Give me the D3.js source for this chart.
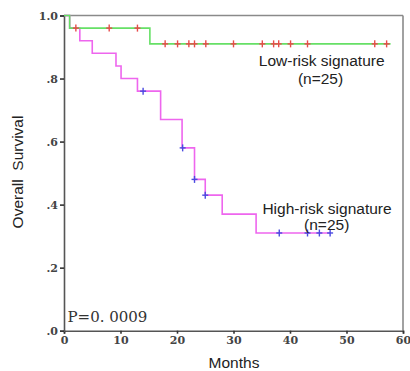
<!DOCTYPE html>
<html><head><meta charset="utf-8">
<script src="https://cdn.jsdelivr.net/npm/d3@7"></script>
<style>body{margin:0;background:#fff;} svg{display:block;}</style>
</head><body>
<svg id="chart" width="410" height="371"></svg>
<script>
// ---- data ----
const xTicks = [0, 10, 20, 30, 40, 50, 60];
const yTicks = [0, 0.2, 0.4, 0.6, 0.8, 1.0];
const yTickLabels = [".0", ".2", ".4", ".6", ".8", "1.0"];

const lowStepTimes = [0, 1.0, 15.2, 57.8];
const lowStepSurv  = [1.0, 0.96, 0.91, 0.91];
const lowCensorTimes = [2.1, 8.0, 13.0, 17.9, 20.1, 22.1, 23.1, 25.1, 30.0, 35.1, 37.1, 38.0, 40.1, 43.1, 55.0, 57.1];

const highStepTimes = [0, 1.0, 2.8, 5.0, 9.2, 10.1, 13.0, 17.1, 20.9, 23.1, 25.0, 28.0, 34.0, 47.2];
const highStepSurv  = [1.0, 0.96, 0.92, 0.88, 0.84, 0.80, 0.76, 0.67, 0.58, 0.48, 0.43, 0.37, 0.31, 0.31];
const highCensorTimes = [14.0, 21.0, 23.1, 25.0, 38.1, 43.1, 45.2, 47.1];

const pValueText = "P=0. 0009";
const lowLabel = ["Low-risk signature", "(n=25)"];
const highLabel = ["High-risk signature", "(n=25)"];

// ---- chart ----
(function () {
const svg = d3.select("#chart");
const mLeft = 64, mRight = 403, mTop = 15.5, mBottom = 330.7;
const x = d3.scaleLinear().domain([0, 60]).range([mLeft, mRight]);
const y = d3.scaleLinear().domain([0, 1]).range([mBottom, mTop]);

function survAt(times, surv, t) {
  let s = surv[0];
  for (let i = 0; i < times.length; i++) if (t >= times[i] - 1e-9) s = surv[i];
  return s;
}

// frame top/right
svg.append("line").attr("x1", mLeft).attr("x2", mRight).attr("y1", mTop).attr("y2", mTop)
  .attr("stroke", "#8a8a8a").attr("stroke-width", 1.6);
svg.append("line").attr("x1", mRight).attr("x2", mRight).attr("y1", mTop).attr("y2", mBottom)
  .attr("stroke", "#8a8a8a").attr("stroke-width", 1.6);

// axes
const xAxis = svg.append("g").attr("transform", `translate(0,${mBottom})`)
  .call(d3.axisBottom(x).tickValues(xTicks).tickSize(3).tickPadding(3).tickFormat(d3.format("d")));
const yAxis = svg.append("g").attr("transform", `translate(${mLeft},0)`)
  .call(d3.axisLeft(y).tickValues(yTicks).tickSize(4).tickPadding(2)
    .tickFormat((d, i) => yTickLabels[i]));
[xAxis, yAxis].forEach(g => {
  g.select(".domain").attr("stroke", "#555").attr("stroke-width", 1.6);
  g.selectAll(".tick line").attr("stroke", "#333").attr("stroke-width", 1.6);
  g.selectAll(".tick text").attr("font-family", "DejaVu Serif").attr("font-weight", "bold")
    .attr("font-size", 11).attr("fill", "#444");
});

const line = d3.line().curve(d3.curveStepAfter).x(d => x(d[0])).y(d => y(d[1]));

// high-risk curve
svg.append("path").datum(highStepTimes.map((t, i) => [t, highStepSurv[i]]))
  .attr("d", line).attr("fill", "none").attr("stroke", "#ee66ee").attr("stroke-width", 1.6);
// low-risk curve
svg.append("path").datum(lowStepTimes.map((t, i) => [t, lowStepSurv[i]]))
  .attr("d", line).attr("fill", "none").attr("stroke", "#66e066").attr("stroke-width", 1.6);

function censor(times, stepT, stepS, color) {
  const g = svg.append("g").attr("stroke", color).attr("stroke-width", 1.4);
  times.forEach(t => {
    const cx = x(t), cy = y(survAt(stepT, stepS, t));
    g.append("line").attr("x1", cx - 3).attr("x2", cx + 3).attr("y1", cy).attr("y2", cy);
    g.append("line").attr("x1", cx).attr("x2", cx).attr("y1", cy - 3.5).attr("y2", cy + 3.5);
  });
}
censor(highCensorTimes, highStepTimes, highStepSurv, "#4a4ae0");
censor(lowCensorTimes, lowStepTimes, lowStepSurv, "#e84a4a");

// labels
const lab = (txt, xx, yy) => svg.append("text").attr("x", xx).attr("y", yy).attr("text-anchor", "middle")
  .attr("font-family", "Liberation Sans, Arial").attr("font-size", 15.5).attr("fill", "#222").text(txt);
lab(lowLabel[0], 321.7, 65.5);
lab(lowLabel[1], 320.5, 83.5);
lab(highLabel[0], 327, 213.5);
lab(highLabel[1], 326.7, 229.5);

svg.append("text").attr("x", 67.5).attr("y", 322).attr("font-family", "DejaVu Serif")
  .attr("font-size", 15).attr("fill", "#333").text(pValueText);

svg.append("text").attr("x", 234).attr("y", 368).attr("text-anchor", "middle")
  .attr("font-family", "Liberation Sans, Arial").attr("font-size", 15.5).attr("fill", "#222").text("Months");

svg.append("text").attr("transform", "translate(23,172) rotate(-90)").attr("text-anchor", "middle")
  .attr("font-family", "Liberation Sans, Arial").attr("font-size", 15.5).attr("fill", "#222")
  .style("white-space", "pre").text("Overall  Survival");
})();
</script>
</body></html>
